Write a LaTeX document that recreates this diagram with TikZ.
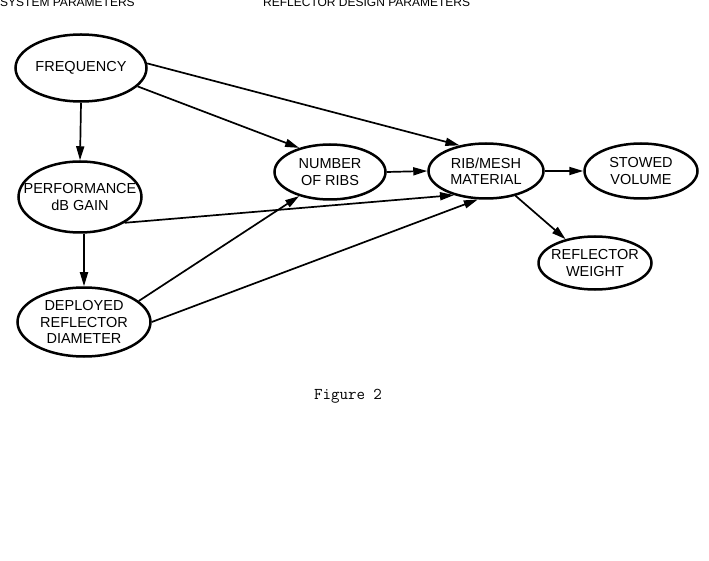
\documentclass[tikz,border=0pt]{standalone}
\usepackage{fontspec}
\setmainfont{Liberation Sans}
\usetikzlibrary{shapes.geometric,arrows.meta}
\begin{document}
\begin{tikzpicture}[x=1pt,y=-1pt,
 el/.style={ellipse,draw,line width=2.5pt,inner xsep=-30pt,inner ysep=-15pt,align=center,font=\fontsize{14.5}{16.5}\selectfont},
 arr/.style={line width=1.7pt,-{Triangle[length=14pt,width=8pt]}},
 hdr/.style={anchor=base west,inner sep=0pt,font=\fontsize{12}{14}\selectfont}]
\useasboundingbox[fill=white] (0,0) rectangle (709,561);
\node[hdr] (h1) at (0,7) {SYSTEM PARAMETERS};
\node[hdr] (h2) at (263,7) {REFLECTOR DESIGN PARAMETERS};
\node[el,minimum width=131pt,minimum height=67pt] (freq) at (81,68) {FREQUENCY};
\node[el,minimum width=123pt,minimum height=71pt] (perf) at (80,197) {PERFORMANCE\\dB GAIN};
\node[el,minimum width=133pt,minimum height=69pt] (dep) at (84,322) {DEPLOYED\\REFLECTOR\\DIAMETER};
\node[el,minimum width=111pt,minimum height=55pt] (num) at (330,172) {NUMBER\\OF RIBS};
\node[el,minimum width=115pt,minimum height=55pt] (rib) at (486,171) {RIB/MESH\\MATERIAL};
\node[el,minimum width=113pt,minimum height=55pt] (sto) at (641,171) {STOWED\\VOLUME};
\node[el,minimum width=113pt,minimum height=53pt] (wgt) at (595,263) {REFLECTOR\\WEIGHT};
\node[font=\fontsize{16.5}{18}\selectfont\ttfamily] (fig) at (348,396) {Figure 2};
\draw[arr] (freq.south) -- (perf.north);
\draw[arr] (perf.south -| dep.north) -- (dep.north);
\draw[arr] (freq.-18) -- (num.142);
\draw[arr] (freq.4) -- (rib.136);
\draw[arr] (perf.-30) -- (rib.217);
\draw[arr] (dep.21) -- (num.218);
\draw[arr] (dep.0) -- (rib.254);
\draw[arr] (num.east) -- (rib.west);
\draw[arr] (rib.east) -- (sto.west);
\draw[arr] (rib.-40) -- (wgt.141);
\end{tikzpicture}
\end{document}
